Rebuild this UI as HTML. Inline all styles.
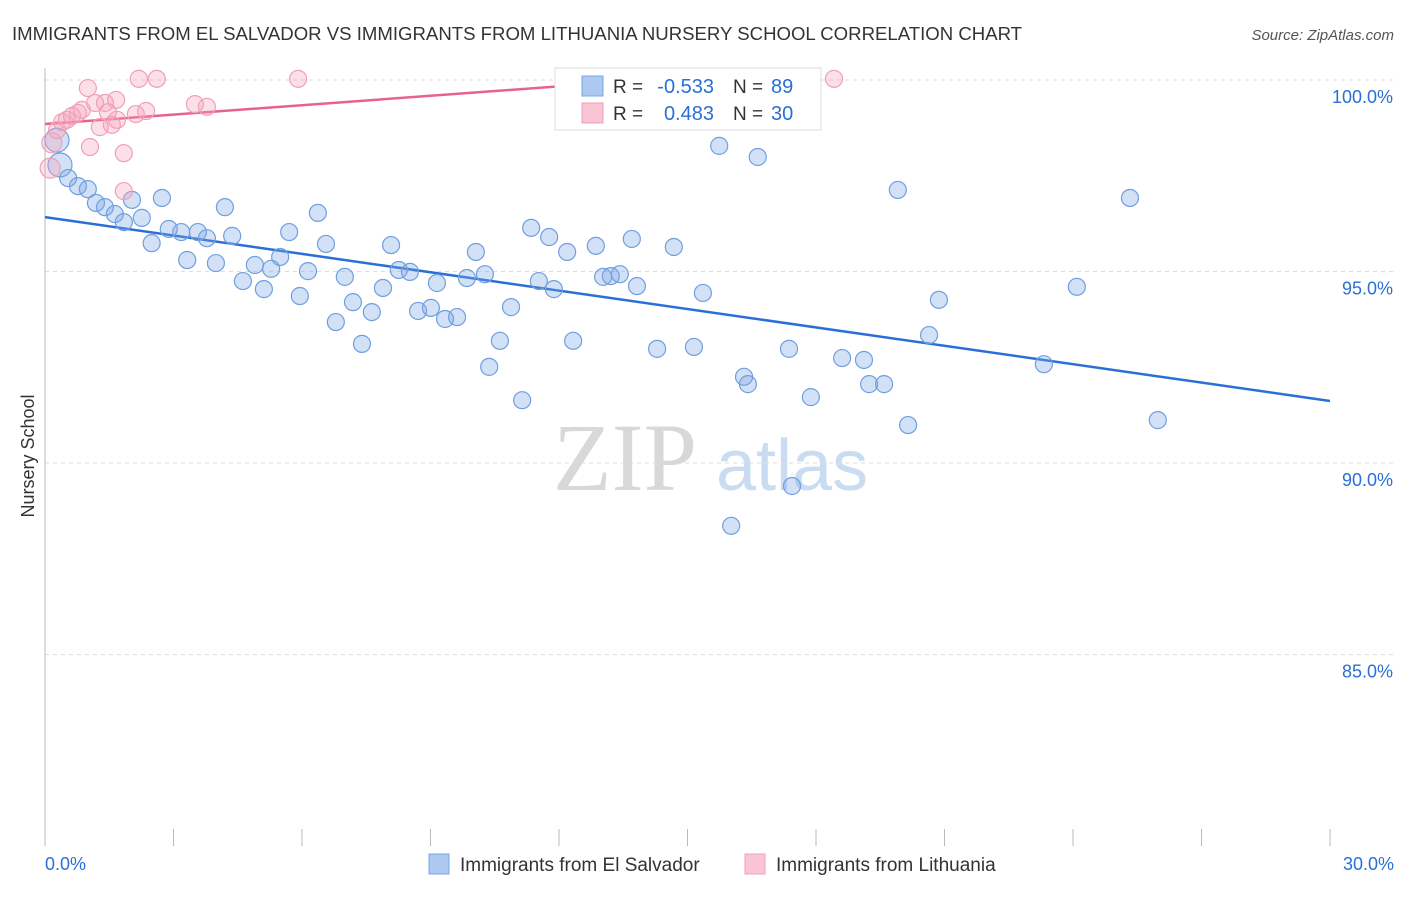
<!DOCTYPE html>
<html><head><meta charset="utf-8"><style>
body{margin:0;background:#fff;font-family:"Liberation Sans",sans-serif}
</style></head><body>
<svg id="c" width="1406" height="892" xmlns="http://www.w3.org/2000/svg">
<text x="12" y="40" font-size="18.6" fill="#333">IMMIGRANTS FROM EL SALVADOR VS IMMIGRANTS FROM LITHUANIA NURSERY SCHOOL CORRELATION CHART</text>
<text x="1394" y="40" font-size="15" fill="#555" font-style="italic" text-anchor="end">Source: ZipAtlas.com</text>
<g>
<text x="553" y="490" font-size="96" font-family="Liberation Serif" fill="#d8d8d8">ZIP</text>
<text x="716" y="490" font-size="72" fill="#c9dcf2">atlas</text>
</g>
<g id="grid"></g><g id="axes"></g><g id="lines"></g><g id="pts"></g>
<text transform="translate(34,456) rotate(-90)" font-size="18" fill="#333" text-anchor="middle">Nursery School</text>
<g>
<rect x="555" y="68" width="266" height="62" fill="#fff" stroke="#ddd"/>
<rect x="582" y="76" width="21" height="20" fill="#adc9f2" stroke="#7aa6e6"/>
<rect x="582" y="103" width="21" height="20" fill="#f9c5d4" stroke="#f0a0b8"/>
<text x="613" y="93" font-size="19" fill="#333">R =</text>
<text x="714" y="93" font-size="20" fill="#2a6fd6" text-anchor="end">-0.533</text>
<text x="733" y="93" font-size="19" fill="#333">N =</text>
<text x="771" y="93" font-size="20" fill="#2a6fd6">89</text>
<text x="613" y="120" font-size="19" fill="#333">R =</text>
<text x="714" y="120" font-size="20" fill="#2a6fd6" text-anchor="end">0.483</text>
<text x="733" y="120" font-size="19" fill="#333">N =</text>
<text x="771" y="120" font-size="20" fill="#2a6fd6">30</text>
</g>
<g>
<rect x="429" y="854" width="20" height="20" fill="#adc9f2" stroke="#7aa6e6"/>
<text x="460" y="871" font-size="19" fill="#333">Immigrants from El Salvador</text>
<rect x="745" y="854" width="20" height="20" fill="#f9c5d4" stroke="#f0a0b8"/>
<text x="776" y="871" font-size="19" fill="#333">Immigrants from Lithuania</text>
</g>
</svg>
<script>
const yTicks=[100,95,90,85];
const yTickLabels=["100.0%","95.0%","90.0%","85.0%"];
const xTickCount=10;
const blueX=[0.35,0.28,0.54,0.77,1.00,1.19,1.40,1.63,1.84,2.03,2.26,2.49,2.73,2.89,3.18,3.32,3.57,3.78,3.99,4.20,4.37,4.62,4.90,5.11,5.28,5.49,5.70,5.95,6.14,6.37,6.56,6.79,7.00,7.19,7.40,7.63,7.89,8.08,8.26,8.52,8.71,9.01,9.15,9.34,9.62,9.85,10.06,10.27,10.37,10.62,10.88,11.14,11.35,11.53,11.77,11.88,12.19,12.33,12.86,13.03,13.21,13.42,13.70,13.82,14.29,14.68,15.15,15.36,15.74,16.02,16.32,16.41,16.64,17.37,17.44,17.88,18.61,19.12,19.24,19.59,19.91,20.15,20.64,20.87,23.32,24.09,25.33,25.98];
const blueY=[97.78,98.43,97.44,97.23,97.15,96.79,96.68,96.50,96.29,96.87,96.40,95.74,96.92,96.11,96.03,95.30,96.03,95.87,95.22,96.68,95.93,94.75,95.17,94.54,95.07,95.38,96.03,94.36,95.01,96.53,95.72,93.68,94.86,94.20,93.11,93.94,94.57,95.69,95.04,94.99,93.97,94.05,94.70,93.76,93.81,94.83,95.51,94.93,92.51,93.19,94.07,91.64,96.14,94.75,95.90,94.54,95.51,93.19,95.67,94.86,94.88,94.93,95.85,94.62,92.98,95.64,93.03,94.44,98.28,88.36,92.25,92.06,97.99,92.98,89.40,91.72,92.74,92.69,92.06,92.06,97.13,90.99,93.34,94.26,92.58,94.60,96.92,91.12];
const pinkX=[0.12,0.16,0.28,0.40,0.51,0.63,0.77,0.86,1.00,1.05,1.17,1.28,1.40,1.47,1.56,1.66,1.68,1.84,1.84,2.12,2.19,2.36,2.61,3.50,3.78,5.91,18.42];
const pinkY=[97.70,98.36,98.69,98.90,98.96,99.06,99.14,99.22,99.79,98.25,99.40,98.77,99.40,99.16,98.83,99.48,98.96,98.09,97.10,99.11,100.03,99.19,100.03,99.37,99.30,100.03,100.03];
const blueLineX=[0,30], blueLineY=[96.42,91.62];
const pinkLineX=[0,13.42], pinkLineY=[98.85,99.95];

const NS="http://www.w3.org/2000/svg";
const sx=v=>45+v/30*1285;
const sy=v=>80+(100-v)*38.3;
function mk(tag,attrs,parent){const e=document.createElementNS(NS,tag);for(const k in attrs)e.setAttribute(k,attrs[k]);document.getElementById(parent).appendChild(e);return e;}
yTicks.forEach((t,i)=>{
  const g=mk('line',{x1:45,x2:1394,y1:sy(t),y2:sy(t),stroke:'#ddd','stroke-dasharray':'4,4'},'grid');
  
  
  const l=mk('text',{x:1393,y:sy(t)+23,'font-size':18,fill:'#2a6fd6','text-anchor':'end'},'grid');
  l.textContent=yTickLabels[i];
  
  
});
const ya=mk('line',{x1:45,x2:45,y1:68,y2:846,stroke:'#bbb'},'axes');


for(let i=0;i<=xTickCount;i++){
  const v=i*30/xTickCount;
  const t=mk('line',{x1:sx(v),x2:sx(v),y1:829,y2:846,stroke:'#bbb'},'axes');
  
  
}
const xl0=mk('text',{x:45,y:870,'font-size':18,fill:'#2a6fd6'},'axes');xl0.textContent='0.0%';


const xl1=mk('text',{x:1394,y:870,'font-size':18,fill:'#2a6fd6','text-anchor':'end'},'axes');xl1.textContent='30.0%';


blueX.forEach((x,i)=>{
  const c=mk('circle',{cx:sx(x),cy:sy(blueY[i]),r:i<2?12:8.5,fill:'rgba(120,165,230,0.33)',stroke:'#6f9fe0','stroke-width':1.2},'pts');
  
  
});
pinkX.forEach((x,i)=>{
  const c=mk('circle',{cx:sx(x),cy:sy(pinkY[i]),r:i<2?10:8.5,fill:'rgba(245,160,185,0.33)',stroke:'#f0a0b8','stroke-width':1.2},'pts');
  
  
});
const bl=mk('line',{x1:sx(blueLineX[0]),y1:sy(blueLineY[0]),x2:sx(blueLineX[1]),y2:sy(blueLineY[1]),stroke:'#2a6fd6','stroke-width':2.5},'lines');


const pl=mk('line',{x1:sx(pinkLineX[0]),y1:sy(pinkLineY[0]),x2:sx(pinkLineX[1]),y2:sy(pinkLineY[1]),stroke:'#e8628c','stroke-width':2.5},'lines');


</script>
</body></html>
